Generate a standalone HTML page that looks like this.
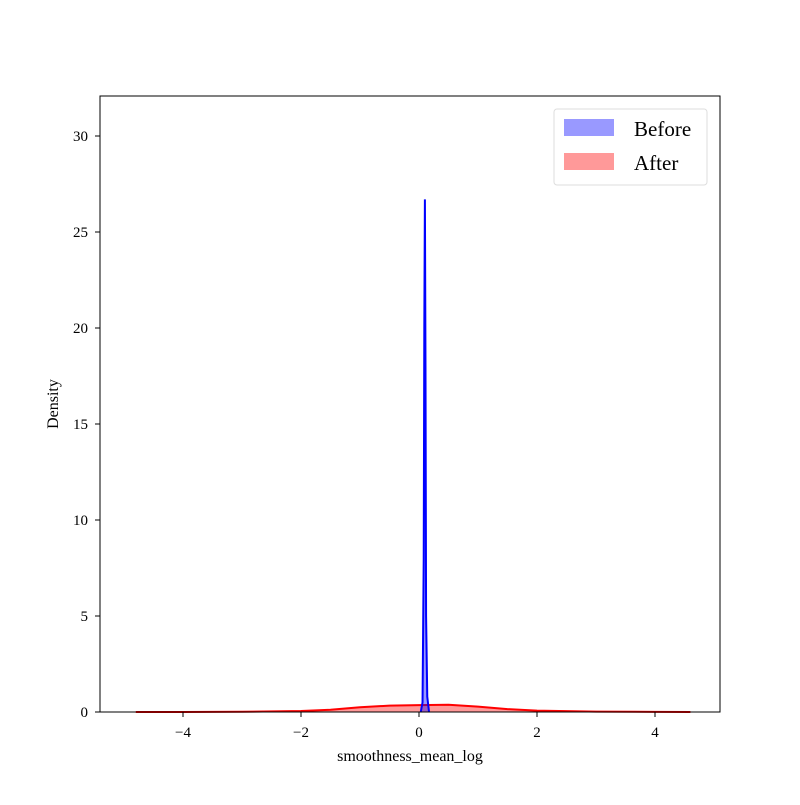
<!DOCTYPE html>
<html><head><meta charset="utf-8"><style>
body{margin:0;background:#fff}
text{font-family:"Liberation Serif",serif;fill:#000}
</style></head><body>
<svg id="chart" width="800" height="800">
<rect x="0" y="0" width="800" height="800" fill="#fff"/>
<g id="marks"></g>
<rect x="100" y="96" width="620" height="616" fill="none" stroke="#000" stroke-width="1"/>
<g id="axes"></g>
<text x="410" y="761" font-size="16" text-anchor="middle">smoothness_mean_log</text>
<text transform="translate(58,404) rotate(-90)" font-size="16" text-anchor="middle">Density</text>
<g>
<rect x="554" y="109" width="153" height="76" rx="3" fill="#fff" stroke="#ddd"/>
<rect x="564" y="119" width="50" height="17" fill="rgba(0,0,255,0.4)"/>
<text x="634" y="136" font-size="21">Before</text>
<rect x="564" y="153" width="50" height="17" fill="rgba(255,0,0,0.4)"/>
<text x="634" y="170" font-size="21">After</text>
</g>
</svg>
<script>
const xTicks=[-4,-2,0,2,4];
const yTicks=[0,5,10,15,20,25,30];
const redX=[-4.8,-4,-3,-2,-1.5,-1,-0.5,0,0.5,1,1.5,2,3,4,4.6];
const redY=[0,0.002,0.01,0.05,0.12,0.25,0.33,0.36,0.38,0.28,0.15,0.07,0.02,0.005,0];
const blueX=[0.03,0.06,0.08,0.09,0.1,0.11,0.12,0.14,0.17];
const blueY=[0,0.5,8,20,26.7,18,5,0.8,0];
const sx=v=>419+v*59;
const sy=v=>712-v*19.2;
const NS="http://www.w3.org/2000/svg";
const marks=document.getElementById('marks'), axes=document.getElementById('axes');
function area(xs,ys,col,name){
  let d='M'+sx(xs[0])+','+sy(0);
  xs.forEach((x,i)=>d+=' L'+sx(x)+','+sy(ys[i]));
  d+=' L'+sx(xs[xs.length-1])+','+sy(0)+' Z';
  const f=document.createElementNS(NS,'path');
  f.setAttribute('d',d);f.setAttribute('fill',col);f.setAttribute('fill-opacity','0.4');
  
  
  marks.appendChild(f);
  const l=document.createElementNS(NS,'polyline');
  l.setAttribute('points',xs.map((x,i)=>sx(x)+','+sy(ys[i])).join(' '));
  l.setAttribute('fill','none');l.setAttribute('stroke',col);l.setAttribute('stroke-width','2');
  
  
  marks.appendChild(l);
}
area(redX,redY,'#ff0000','after-density');
area(blueX,blueY,'#0000ff','before-density');
xTicks.forEach(t=>{
  const l=document.createElementNS(NS,'line');
  l.setAttribute('x1',sx(t));l.setAttribute('x2',sx(t));l.setAttribute('y1',712);l.setAttribute('y2',717);l.setAttribute('stroke','#000');
  
  
  axes.appendChild(l);
  const tx=document.createElementNS(NS,'text');
  tx.setAttribute('x',sx(t));tx.setAttribute('y',737);tx.setAttribute('font-size','15');tx.setAttribute('text-anchor','middle');
  tx.textContent=t<0?'\u2212'+(-t):String(t);
  
  
  axes.appendChild(tx);
});
yTicks.forEach(t=>{
  const l=document.createElementNS(NS,'line');
  l.setAttribute('x1',95);l.setAttribute('x2',100);l.setAttribute('y1',sy(t));l.setAttribute('y2',sy(t));l.setAttribute('stroke','#000');
  
  
  axes.appendChild(l);
  const tx=document.createElementNS(NS,'text');
  tx.setAttribute('x',88);tx.setAttribute('y',sy(t)+5);tx.setAttribute('font-size','15');tx.setAttribute('text-anchor','end');
  tx.textContent=String(t);
  
  
  axes.appendChild(tx);
});
</script>
</body></html>
